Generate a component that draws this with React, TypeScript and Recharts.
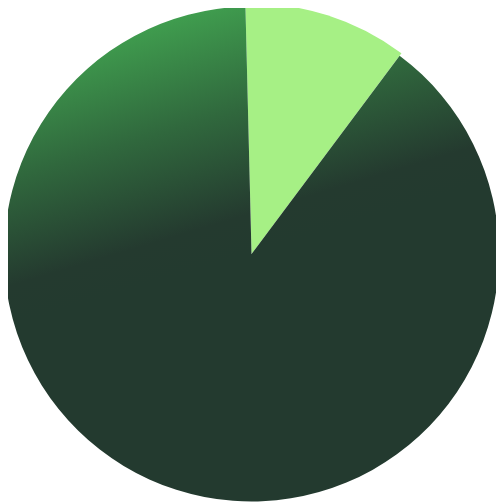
import { Cell, Pie, PieChart, Sector } from "recharts"

const names = ["Minor", "Major"]
const values = [10.6, 89.4]
const colors = ["#a6f085", "url(#majorFill)"]

const data = names.map((name, i) => ({ name, value: values[i] }))

// first slice reaches a few pixels past the rest
const renderSlice = (props: any) => (
  <Sector {...props} outerRadius={props.index === 0 ? props.outerRadius + 3 : props.outerRadius} />
)

export default function App() {
  return (
    <div style={{ margin: "-8px 0 0 -8px", width: 504, height: 504 }}>
      <PieChart width={504} height={504} margin={{ top: 0, right: 0, bottom: 0, left: 0 }}>
        <defs>
          <linearGradient id="majorFill" x1="0.35" y1="0" x2="0.5" y2="0.5">
            <stop offset="0" stopColor="#41a250" />
            <stop offset="0.45" stopColor="#30683d" />
            <stop offset="0.85" stopColor="#243a2f" />
            <stop offset="1" stopColor="#233a2f" />
          </linearGradient>
        </defs>
        <Pie
          data={data}
          dataKey="value"
          nameKey="name"
          cx={251.5}
          cy={254}
          innerRadius={0}
          outerRadius={247.5}
          startAngle={91.4}
          endAngle={91.4 - 360}
          stroke="none"
          shape={renderSlice}
          isAnimationActive={false}
        >
          {data.map((d, i) => (
            <Cell key={d.name} fill={colors[i]} />
          ))}
        </Pie>
      </PieChart>
    </div>
  )
}
